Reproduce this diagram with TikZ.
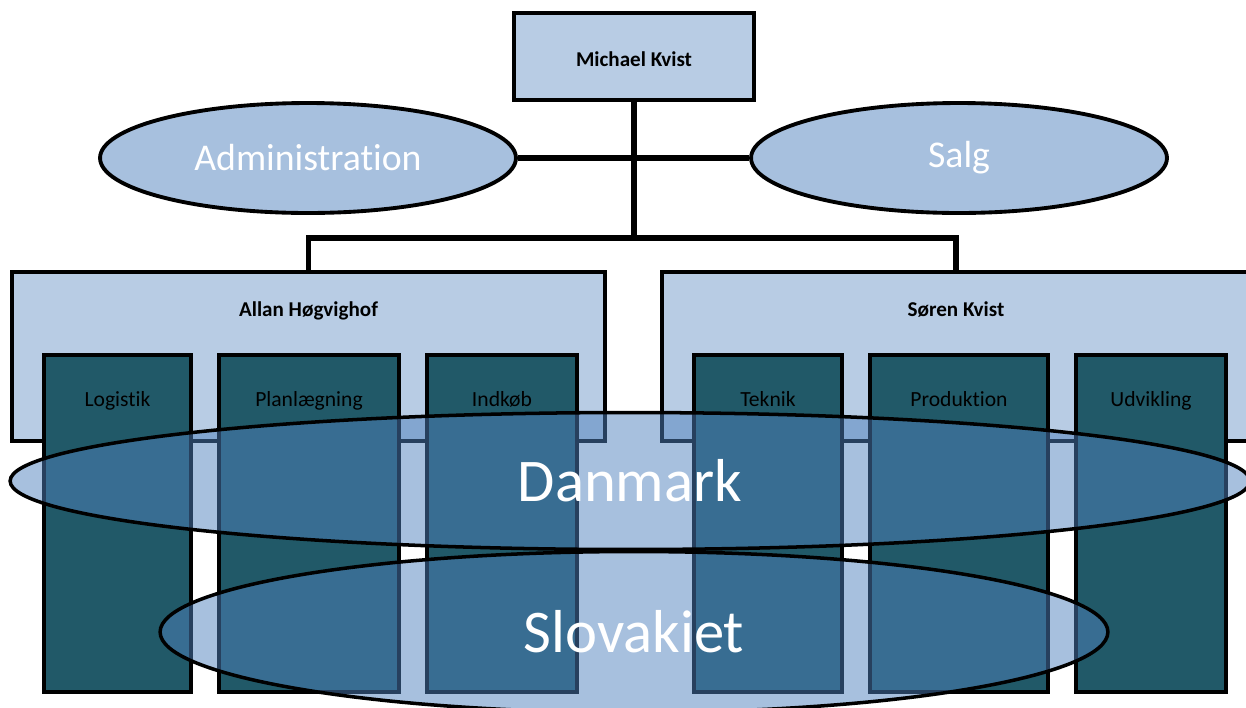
\documentclass[tikz,border=0pt]{standalone}
\usepackage{fontspec}
\setmainfont{Carlito}[Ligatures=NoCommon]
\usepackage{tikz}
\usetikzlibrary{positioning}
\usetikzlibrary{shapes.geometric}
\definecolor{lysblaa}{HTML}{B8CCE4}
\definecolor{ovalblaa}{HTML}{A7C0DE}
\definecolor{afdfarve}{HTML}{215968}
\definecolor{landblaa}{HTML}{4F81BD}
\tikzset{
    organisation/.style={
            x=0.02cm,y=-0.02cm,
            linje/.style={line width=3pt},
            chefboks/.style={draw,line width=2.6pt,fill=lysblaa,minimum width=4.8cm,minimum height=1.74cm,inner sep=0pt},
            stab/.style={ellipse,draw,line width=2.2pt,fill=ovalblaa,text=white,minimum width=8.32cm,minimum height=2.2cm,inner sep=0pt,font=\fontsize{21.5}{24}\selectfont},
            divisionsboks/.style={draw,line width=2.6pt,fill=lysblaa,minimum height=3.38cm,inner sep=0pt},
            navn/.style={anchor=base,font=\fontsize{12}{14}\selectfont\bfseries},
            afdeling/.style={draw,line width=2.2pt,fill=afdfarve,minimum height=6.74cm,inner sep=0pt},
            afdnavn/.style={anchor=base,font=\fontsize{12.3}{14}\selectfont,text=black},
            land/.style={ellipse,draw,line width=2pt,fill=landblaa,fill opacity=0.5,draw opacity=1,text opacity=1,text=white,inner sep=0pt,font=\fontsize{34.5}{40}\selectfont}
        }
    }
\begin{document}
\begin{tikzpicture}[organisation]
    \clip (0,0) rectangle (1246,707);
    % ledelse
    \node [chefboks] (chef) at (634,56.5) {};
    \node [navn] (michael) at ([yshift=-0.2cm]chef.center) {Michael Kvist};
    \node [stab] (admin) at (308,158) {Administration};
    \node [stab] (salg) at (959,158) {Salg};
    \draw [linje] (admin.east) -- (salg.west);
    \coordinate (gren) at (634,238);
    \draw [linje] (chef.south) -- (gren);
    % divisioner
    \node [divisionsboks, minimum width=11.86cm] (venstre) at (308.5,356.5) {};
    \node [divisionsboks, minimum width=11.76cm] (hoejre) at (956,356.5) {};
    \node [navn] (allan) at ([yshift=-0.94cm]venstre.north) {Allan Høgvighof};
    \node [navn] (soeren) at ([yshift=-0.94cm]hoejre.north) {Søren Kvist};
    \draw [linje] (venstre.north) |- (gren) -| (hoejre.north);
    % afdelinger
    \node [afdeling, minimum width=2.94cm] (logistik) at (117.5,523.5) {};
    \node [afdeling, minimum width=3.6cm] (planlaegning) at (309,523.5) {};
    \node [afdeling, minimum width=3.0cm] (indkoeb) at (502,523.5) {};
    \node [afdeling, minimum width=2.96cm] (teknik) at (768,523.5) {};
    \node [afdeling, minimum width=3.56cm] (produktion) at (959,523.5) {};
    \node [afdeling, minimum width=3.0cm] (udvikling) at (1151,523.5) {};
    \node [afdnavn] at ([yshift=-1.06cm]logistik.north) {Logistik};
    \node [afdnavn] at ([yshift=-1.06cm]planlaegning.north) {Planlægning};
    \node [afdnavn] at ([yshift=-1.06cm]indkoeb.north) {Indkøb};
    \node [afdnavn] at ([yshift=-1.06cm]teknik.north) {Teknik};
    \node [afdnavn] at ([yshift=-1.06cm]produktion.north) {Produktion};
    \node [afdnavn] at ([yshift=-1.06cm]udvikling.north) {Udvikling};
    % lande
    \node [land, minimum width=24.8cm, minimum height=2.74cm] (danmark) at (630,481) {Danmark};
    \node [land, minimum width=18.96cm, minimum height=3.22cm] (slovakiet) at (634,632) {Slovakiet};
\end{tikzpicture}
\end{document}
